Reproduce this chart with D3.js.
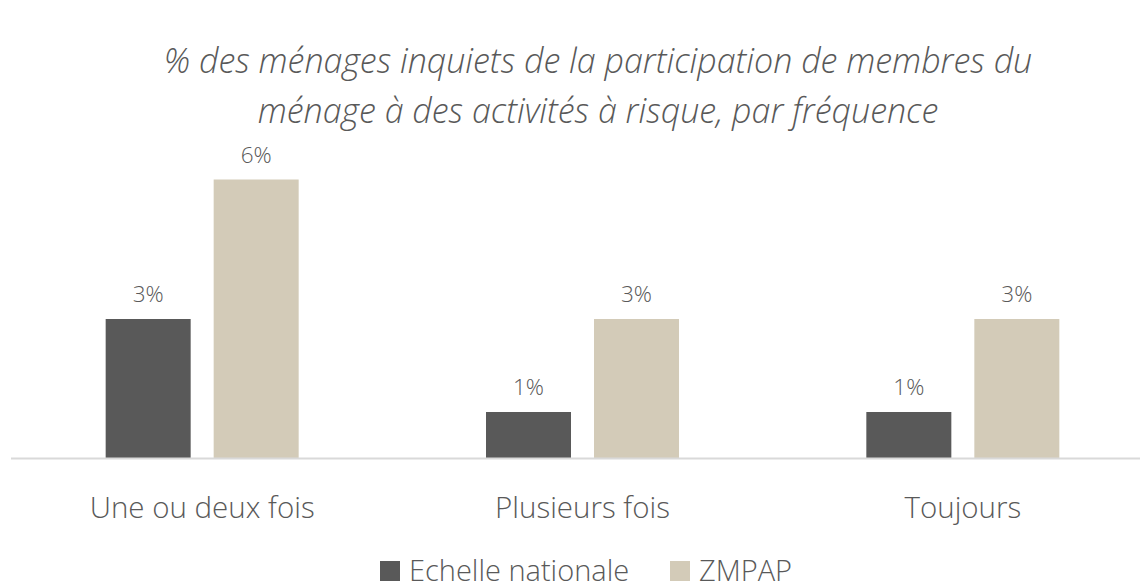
<!DOCTYPE html>
<html>
<head>
<meta charset="utf-8">
<script src="https://cdn.jsdelivr.net/npm/d3@7"></script>
<style>
  body { margin: 0; background: #fff; }
  svg text { font-family: "Segoe UI", "Open Sans", sans-serif; font-weight: 300; fill: #595959; }
</style>
</head>
<body>
<div id="chart"></div>
<script>
// data
const categories = ["Une ou deux fois", "Plusieurs fois", "Toujours"];
const seriesNames = ["Echelle nationale", "ZMPAP"];
const nationale = [3, 1, 1];
const zmpap = [6, 3, 3];
const titleLines = ["% des ménages inquiets de la participation de membres du",
                    "ménage à des activités à risque, par fréquence"];

const colors = ["#595959", "#d3cbb8"];
const width = 1140, height = 584;
const baseY = 458.5;

const svg = d3.select("#chart").append("svg")
  .attr("width", width)
  .attr("height", height);

// title
svg.append("g").selectAll("text")
  .data(titleLines).enter().append("text")
  .attr("x", 598)
  .attr("y", (d, i) => 73 + i * 50)
  .attr("text-anchor", "middle")
  .style("font-size", "34px")
  .style("font-style", "italic")
  .text(d => d);

// scales
const x0 = d3.scaleBand().domain(categories).range([12, 1153]);
const x1 = d3.scaleBand().domain(seriesNames).range([0, 193]).paddingInner(0.213);
const groupOffset = (x0.bandwidth() - 193) / 2;
const y = d3.scaleLinear().domain([0, 6]).range([baseY, 179.5]);

const rows = categories.map((c, i) => ({ cat: c, vals: [nationale[i], zmpap[i]] }));

const groups = svg.selectAll(".grp")
  .data(rows).enter().append("g")
  .attr("class", "grp")
  .attr("transform", d => `translate(${x0(d.cat) + groupOffset},0)`);

groups.selectAll("rect")
  .data(d => d.vals.map((v, j) => ({ name: seriesNames[j], v: v, j: j })))
  .enter().append("rect")
  .attr("x", d => x1(d.name))
  .attr("width", x1.bandwidth())
  .attr("y", d => y(d.v))
  .attr("height", d => baseY - y(d.v))
  .attr("fill", d => colors[d.j]);

groups.selectAll(".lbl")
  .data(d => d.vals.map((v, j) => ({ name: seriesNames[j], v: v })))
  .enter().append("text")
  .attr("class", "lbl")
  .attr("x", d => x1(d.name) + x1.bandwidth() / 2)
  .attr("y", d => y(d.v) - 17)
  .attr("text-anchor", "middle")
  .style("font-size", "22.5px")
  .text(d => d.v + "%");

// x axis
const xAxis = d3.axisBottom(x0).tickSize(0).tickPadding(0);
const ax = svg.append("g")
  .attr("transform", `translate(0,${baseY})`)
  .call(xAxis);
ax.select(".domain").attr("stroke", "#d9d9d9").attr("stroke-width", 2).attr("d", "M11,0H1153");
ax.attr("font-family", null).attr("font-size", null);
ax.selectAll(".tick text")
  .attr("y", 59)
  .attr("dy", 0)
  .style("font-size", "29.5px")
  .style("fill", "#595959");

// legend
const legendX = [380, 670];
const leg = svg.selectAll(".leg")
  .data(seriesNames).enter().append("g")
  .attr("class", "leg")
  .attr("transform", (d, i) => `translate(${legendX[i]},561)`);
leg.append("rect").attr("width", 20).attr("height", 20).attr("fill", (d, i) => colors[i]);
leg.append("text")
  .attr("x", 29)
  .attr("y", 19.5)
  .style("font-size", "29px")
  .text(d => d);
</script>
</body>
</html>
